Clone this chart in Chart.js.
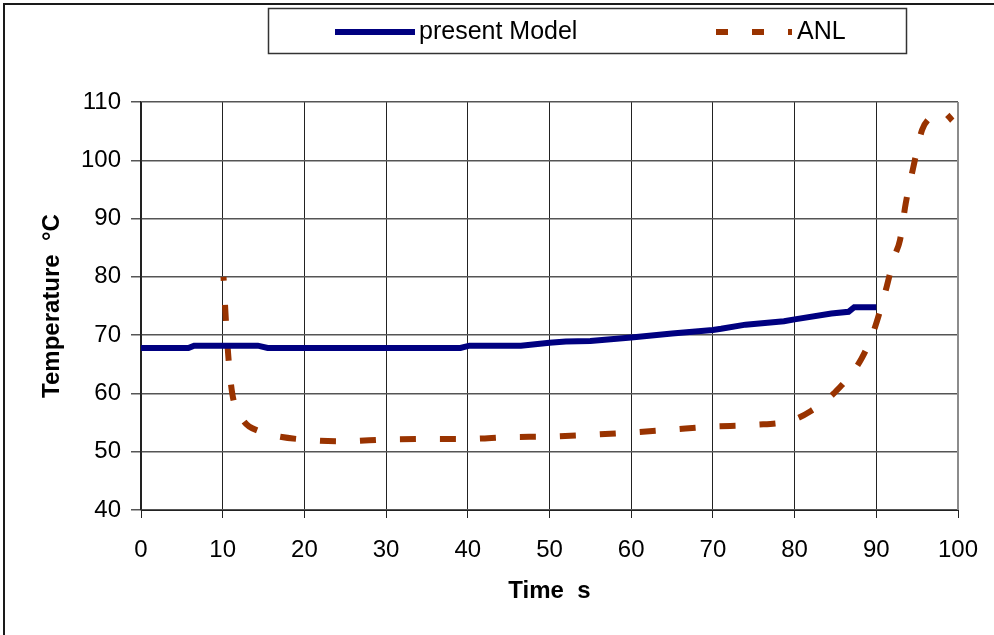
<!DOCTYPE html>
<html>
<head>
<meta charset="utf-8">
<script src="https://cdn.jsdelivr.net/npm/chart.js@4/dist/chart.umd.min.js"></script>
<style>
  html, body { margin: 0; padding: 0; background: #fff; }
  #wrap { width: 994px; height: 635px; position: relative; }
</style>
</head>
<body>
<div id="wrap"><canvas id="tempChart" width="994" height="635"></canvas></div>
<script>
// values
var modelTime = [0, 5.8, 6.5, 14.3, 15.5, 39.1, 40.2, 46.5, 50, 52, 55, 60, 65, 70, 71, 74, 78.7, 80, 84.5, 86.6, 87.3, 90];
var modelTemp = [67.8, 67.8, 68.2, 68.2, 67.8, 67.8, 68.2, 68.2, 68.7, 68.9, 69.0, 69.6, 70.3, 70.9, 71.1, 71.8, 72.4, 72.7, 73.7, 74.0, 74.8, 74.8];

var anlTime = [10.1, 10.5, 10.9, 11.3, 12.6, 14.5, 16.5, 20.7, 25, 30, 35, 40, 45, 50, 55, 60, 65, 70, 75, 79.7, 82, 84.8, 88.2, 89.8, 91.1, 92.2, 92.9, 93.6, 94.5, 95.6, 96.5, 97.5, 98.3, 99.3];
var anlTemp = [80, 70, 63, 59, 55.2, 53.5, 52.7, 52.0, 51.8, 52.1, 52.2, 52.2, 52.5, 52.6, 52.9, 53.3, 53.8, 54.3, 54.6, 55.4, 57, 60.0, 66.0, 71.2, 77.4, 83.4, 86.3, 92.6, 98.6, 105.2, 107.2, 108.3, 108.2, 106.8];

var seriesNames = ['present Model', 'ANL'];
var xTicks = [0, 10, 20, 30, 40, 50, 60, 70, 80, 90, 100];
var yTicks = [40, 50, 60, 70, 80, 90, 100, 110];

function pairs(xs, ys) {
    var out = [];
    for (var i = 0; i < xs.length; i++) {
        out.push({ x: xs[i], y: ys[i] });
    }
    return out;
}

var FONT = 'Liberation Sans, Arial, sans-serif';

// frame round the picture and the boxed legend at the top
var framePlugin = {
    id: 'frame',
    afterDraw: function(chart) {
        var ctx = chart.ctx;
        var area = chart.chartArea;
        ctx.save();

        // right edge of plot in grey
        ctx.strokeStyle = '#8c8c8c';
        ctx.lineWidth = 2;
        ctx.beginPath();
        ctx.moveTo(area.right, area.top);
        ctx.lineTo(area.right, area.bottom);
        ctx.stroke();

        // outer border (only top and left show)
        ctx.strokeStyle = '#1a1a1a';
        ctx.lineWidth = 2;
        ctx.strokeRect(4, 4, 1100, 800);

        // legend box
        ctx.strokeStyle = '#333';
        ctx.lineWidth = 1.5;
        ctx.strokeRect(268.5, 8.5, 638, 45);

        var ds = chart.data.datasets;
        var ly = 32;
        ctx.font = '25px ' + FONT;
        ctx.fillStyle = '#000';
        ctx.textBaseline = 'middle';

        ctx.strokeStyle = ds[0].borderColor;
        ctx.lineWidth = 6;
        ctx.setLineDash([]);
        ctx.beginPath();
        ctx.moveTo(335, ly);
        ctx.lineTo(415, ly);
        ctx.stroke();
        ctx.fillText(ds[0].label, 419, ly);

        ctx.strokeStyle = ds[1].borderColor;
        ctx.setLineDash([12, 24]);
        ctx.beginPath();
        ctx.moveTo(716, ly);
        ctx.lineTo(792, ly);
        ctx.stroke();
        ctx.setLineDash([]);
        ctx.fillText(ds[1].label, 797, ly);

        ctx.restore();
    }
};

var context = document.getElementById('tempChart').getContext('2d');
var myChart = new Chart(context, {
    type: 'line',
    data: {
        datasets: [{
            label: seriesNames[0],
            data: pairs(modelTime, modelTemp),
            borderColor: '#000080',
            backgroundColor: '#000080',
            borderWidth: 6,
            pointRadius: 0,
            tension: 0,
            fill: false
        }, {
            label: seriesNames[1],
            data: pairs(anlTime, anlTemp),
            borderColor: '#993300',
            backgroundColor: '#993300',
            borderWidth: 6,
            borderDash: [16, 24],
            borderDashOffset: 12,
            pointRadius: 0,
            cubicInterpolationMode: 'monotone',
            fill: false
        }]
    },
    options: {
        responsive: false,
        animation: false,
        events: [],
        layout: { padding: { left: 28, right: 36, top: 102, bottom: 20 } },
        plugins: {
            legend: { display: false },
            tooltip: { enabled: false }
        },
        scales: {
            x: {
                type: 'linear',
                min: 0,
                max: 100,
                afterBuildTicks: function(scale) {
                    scale.ticks = xTicks.map(function(v) { return { value: v }; });
                },
                afterFit: function(scale) {
                    scale.height = 105;
                    scale.paddingLeft = 0;
                    scale.paddingRight = 0;
                },
                ticks: {
                    color: '#000',
                    padding: 18,
                    maxRotation: 0,
                    font: { family: FONT, size: 24 }
                },
                grid: {
                    color: '#222',
                    lineWidth: 1,
                    tickLength: 8
                },
                border: { color: '#222', width: 1 },
                title: {
                    display: true,
                    text: 'Time  s',
                    color: '#000',
                    font: { family: FONT, size: 24, weight: 'bold' },
                    padding: { top: 0, bottom: 9 }
                }
            },
            y: {
                min: 40,
                max: 110,
                afterBuildTicks: function(scale) {
                    scale.ticks = yTicks.map(function(v) { return { value: v }; });
                },
                afterFit: function(scale) { scale.width = 113; },
                ticks: {
                    color: '#000',
                    padding: 10,
                    font: { family: FONT, size: 24 }
                },
                grid: {
                    color: '#555',
                    lineWidth: 1.5,
                    tickLength: 10
                },
                border: { color: '#222', width: 1.5 },
                title: {
                    display: true,
                    text: 'Temperature  °C',
                    color: '#000',
                    font: { family: FONT, size: 24, weight: 'bold' },
                    padding: { top: 10, bottom: 0 }
                }
            }
        }
    },
    plugins: [framePlugin]
});
</script>
</body>
</html>
